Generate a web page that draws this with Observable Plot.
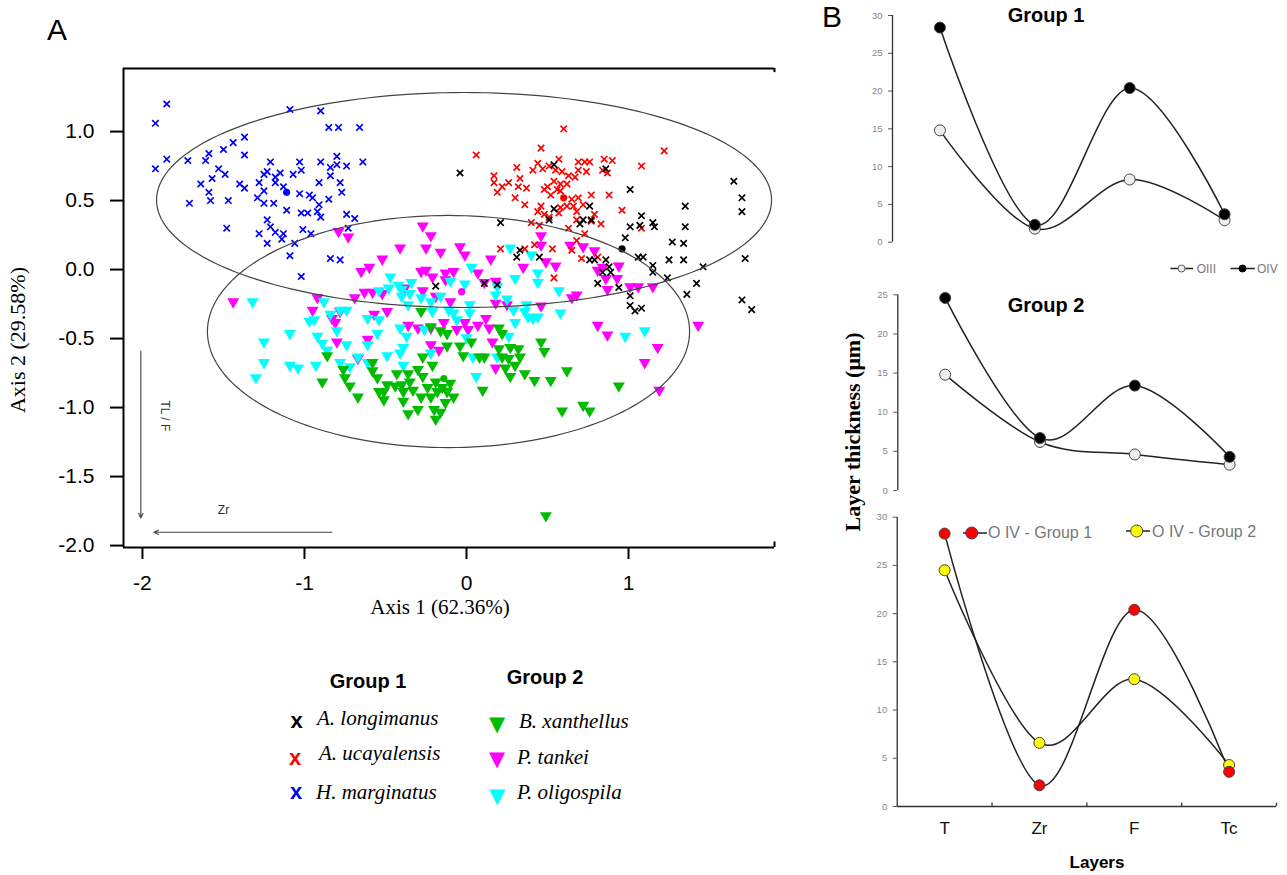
<!DOCTYPE html>
<html><head><meta charset="utf-8">
<script src="https://cdn.jsdelivr.net/npm/d3@7"></script>
<script src="https://cdn.jsdelivr.net/npm/@observablehq/plot@0.6"></script>
<style>
body{margin:0;background:#fff;}
#wrap{position:relative;width:1287px;height:875px;overflow:hidden;font-family:"Liberation Sans",Arial,sans-serif;color:#000;}
.abs{position:absolute;white-space:nowrap;line-height:1;}
.plot{position:absolute;}
</style></head><body><div id="wrap"></div>
<script>
// ---------------- Panel A data (Axis 1, Axis 2) ----------------
const aLongimanus = [[-0.04,0.70],[0.54,0.76],[0.86,0.73],[1.01,0.58],[1.65,0.64],[1.70,0.52],[1.70,0.42],[1.35,0.46],[1.08,0.39],[1.01,0.31],[1.07,0.32],[1.15,0.34],[1.16,0.31],[1.35,0.31],[0.98,0.23],[1.27,0.20],[1.34,0.19],[0.54,0.44],[0.76,0.46],[0.51,0.36],[0.72,0.36],[0.77,0.36],[0.70,0.33],[0.21,0.34],[0.33,0.14],[0.31,0.09],[0.45,0.09],[0.76,0.07],[0.79,0.07],[0.86,0.07],[0.88,0.02],[1.06,0.09],[1.09,0.09],[1.25,0.07],[1.34,0.07],[1.15,0.03],[1.15,-0.02],[1.46,0.02],[1.72,0.08],[0.84,-0.02],[0.89,-0.02],[0.81,-0.10],[0.94,-0.13],[1.01,-0.19],[1.24,-0.06],[1.42,-0.10],[1.36,-0.18],[1.70,-0.22],[1.76,-0.29],[1.01,-0.26],[1.04,-0.30],[1.08,-0.28],[-0.19,-0.12],[0.11,-0.10],[0.19,-0.11]];
const aUcayalensis = [[0.60,1.02],[0.46,0.88],[0.06,0.83],[1.22,0.86],[1.08,0.75],[0.31,0.74],[0.17,0.68],[0.17,0.63],[0.22,0.60],[0.26,0.63],[0.19,0.56],[0.33,0.66],[0.32,0.60],[0.37,0.59],[0.41,0.72],[0.44,0.77],[0.47,0.73],[0.51,0.75],[0.57,0.80],[0.55,0.72],[0.59,0.71],[0.63,0.68],[0.67,0.67],[0.69,0.78],[0.69,0.72],[0.73,0.78],[0.76,0.78],[0.74,0.71],[0.85,0.80],[0.90,0.79],[0.84,0.72],[0.87,0.70],[0.54,0.64],[0.58,0.62],[0.62,0.62],[0.56,0.58],[0.50,0.60],[0.48,0.58],[0.52,0.54],[0.58,0.57],[0.30,0.52],[0.36,0.47],[0.65,0.51],[0.69,0.52],[0.77,0.54],[0.88,0.54],[0.72,0.47],[0.46,0.46],[0.58,0.45],[0.62,0.46],[0.66,0.46],[0.44,0.42],[0.48,0.40],[0.51,0.38],[0.57,0.41],[0.68,0.42],[0.79,0.40],[0.96,0.43],[0.40,0.34],[0.45,0.32],[0.68,0.36],[0.77,0.35],[0.83,0.33],[0.63,0.30],[0.73,0.26],[1.08,0.30],[0.68,0.21],[0.42,0.18],[0.53,0.15],[0.65,0.14],[0.21,0.15],[0.36,0.15],[0.71,0.08],[0.81,0.09],[0.54,-0.06]];
const hMarginatus = [[-1.85,1.20],[-1.92,1.06],[-1.09,1.16],[-0.90,1.15],[-0.85,1.03],[-0.79,1.03],[-0.66,1.03],[-1.37,0.96],[-1.44,0.92],[-1.50,0.87],[-1.59,0.84],[-1.61,0.79],[-1.72,0.79],[-1.85,0.80],[-1.92,0.73],[-1.37,0.83],[-1.53,0.73],[-1.49,0.69],[-1.57,0.66],[-1.64,0.62],[-1.59,0.56],[-1.71,0.48],[-1.58,0.50],[-1.47,0.50],[-1.40,0.62],[-1.37,0.59],[-1.48,0.30],[-1.21,0.78],[-1.03,0.78],[-0.90,0.78],[-0.80,0.82],[-0.84,0.74],[-0.80,0.76],[-0.74,0.75],[-0.64,0.78],[-1.23,0.71],[-1.25,0.69],[-1.18,0.67],[-1.15,0.70],[-1.07,0.69],[-1.02,0.72],[-1.28,0.63],[-1.18,0.63],[-1.13,0.60],[-1.25,0.57],[-1.29,0.52],[-1.25,0.48],[-1.19,0.48],[-1.11,0.43],[-1.03,0.55],[-1.02,0.41],[-0.98,0.41],[-0.97,0.54],[-0.95,0.52],[-0.91,0.63],[-0.84,0.68],[-0.78,0.63],[-0.77,0.56],[-0.91,0.47],[-0.92,0.42],[-0.90,0.38],[-0.85,0.51],[-0.74,0.40],[-0.69,0.37],[-0.73,0.30],[-1.23,0.36],[-1.21,0.31],[-1.18,0.27],[-1.13,0.26],[-1.14,0.22],[-1.28,0.26],[-1.23,0.19],[-1.01,0.29],[-0.96,0.26],[-1.06,0.19],[-1.09,0.10],[-0.84,0.08],[-0.78,0.07],[-1.02,-0.05]];
const bXanthellus = [[-0.28,-0.31],[-0.22,-0.42],[-0.16,-0.45],[-0.12,-0.47],[-0.12,-0.56],[-0.04,-0.56],[-0.27,-0.64],[-0.21,-0.70],[-0.86,-0.63],[-0.76,-0.73],[-0.75,-0.79],[-0.58,-0.68],[-0.58,-0.74],[-0.55,-0.79],[-0.49,-0.84],[-0.44,-0.85],[-0.40,-0.84],[-0.43,-0.76],[-0.36,-0.76],[-0.30,-0.73],[-0.27,-0.78],[-0.35,-0.82],[-0.39,-0.89],[-0.33,-0.88],[-0.28,-0.93],[-0.22,-0.93],[-0.18,-0.89],[-0.15,-0.86],[-0.19,-0.82],[-0.10,-0.83],[-0.08,-0.93],[-0.13,-0.97],[-0.20,-1.02],[-0.16,-1.04],[-0.30,-1.02],[-0.36,-1.05],[-0.19,-1.09],[-0.51,-0.89],[-0.51,-0.95],[-0.67,-0.93],[-0.89,-0.82],[-0.39,-0.96],[-0.72,-0.85],[-0.54,-0.89],[-0.24,-0.86],[-0.12,-0.89],[0.03,-0.53],[0.08,-0.64],[0.11,-0.64],[-0.02,-0.63],[0.20,-0.43],[0.22,-0.47],[0.20,-0.58],[0.27,-0.57],[0.32,-0.58],[0.22,-0.64],[0.26,-0.65],[0.33,-0.64],[0.30,-0.70],[0.24,-0.72],[0.27,-0.78],[0.36,-0.76],[0.46,-0.53],[0.48,-0.60],[0.42,-0.81],[0.52,-0.81],[0.62,-0.74],[0.94,-0.85],[0.59,-1.03],[0.72,-0.99],[0.76,-1.03],[0.10,-0.88],[0.49,-1.79]];
const pTankei = [[-0.79,0.27],[-0.73,0.23],[-0.27,0.31],[-0.22,0.24],[-0.41,0.15],[-0.25,0.15],[-0.16,0.12],[-0.04,0.16],[-0.01,0.10],[0.15,0.07],[0.46,0.24],[0.46,0.17],[0.64,0.17],[0.72,0.16],[0.79,0.13],[0.35,0.01],[0.49,0.05],[0.55,0.02],[0.07,-0.03],[0.11,-0.10],[0.18,-0.09],[0.18,-0.25],[0.25,-0.26],[0.46,-0.27],[0.65,-0.21],[0.68,-0.19],[0.81,-0.01],[0.84,0.01],[0.86,-0.07],[0.87,-0.15],[0.93,-0.07],[0.94,0.02],[1.01,-0.13],[1.06,-0.13],[1.15,-0.13],[0.81,-0.41],[0.87,-0.48],[1.43,-0.41],[1.18,-0.57],[1.10,-0.68],[1.19,-0.88],[0.12,-0.36],[0.14,-0.43],[0.07,-0.41],[0.01,-0.44],[0.16,-0.53],[0.18,-0.72],[-0.52,0.07],[-0.65,-0.02],[-0.60,0.01],[-0.28,-0.02],[-0.25,-0.01],[-0.21,-0.06],[-0.13,-0.03],[-0.08,-0.02],[-0.13,-0.08],[-0.92,-0.21],[-0.63,-0.17],[-0.58,-0.17],[-0.52,-0.18],[-0.69,-0.21],[-0.27,-0.16],[-0.19,-0.20],[-0.10,-0.24],[-1.44,-0.24],[-0.95,-0.30],[-0.83,-0.36],[-0.78,-0.31],[-0.81,-0.39],[-0.57,-0.33],[-0.49,-0.31],[-0.36,-0.41],[-0.30,-0.43],[-0.22,-0.43],[-0.14,-0.39],[-0.06,-0.44],[-0.80,-0.53],[-0.61,-0.51],[-0.22,-0.55],[-0.17,-0.59],[-0.67,-0.65],[-0.38,-0.14],[-0.01,-0.39]];
const pOligospila = [[-0.47,-0.06],[-0.42,-0.12],[-0.34,-0.10],[-0.40,-0.15],[-0.35,-0.18],[-0.28,-0.21],[-0.22,-0.24],[-0.16,-0.20],[-0.21,-0.31],[-0.11,-0.30],[-0.08,-0.32],[-0.06,-0.37],[-0.78,-0.30],[-0.74,-0.30],[-0.84,-0.33],[-0.97,-0.38],[-0.94,-0.37],[-0.88,-0.24],[-1.32,-0.24],[-1.09,-0.47],[-1.25,-0.53],[-0.92,-0.49],[-0.89,-0.54],[-0.86,-0.59],[-0.80,-0.45],[-0.74,-0.55],[-0.61,-0.55],[-0.55,-0.47],[-0.41,-0.43],[-0.37,-0.49],[-0.26,-0.44],[-0.39,-0.57],[-0.41,-0.61],[-0.22,-0.61],[-1.25,-0.68],[-1.09,-0.70],[-1.04,-0.72],[-0.93,-0.70],[-0.78,-0.68],[-0.72,-0.71],[-0.67,-0.64],[-0.61,-0.68],[-0.49,-0.63],[-0.39,-0.70],[-1.30,-0.79],[-0.54,-0.16],[0.27,0.15],[0.40,0.10],[0.03,0.01],[0.30,-0.07],[0.44,-0.03],[0.44,-0.10],[0.57,-0.16],[0.19,-0.13],[0.18,-0.19],[0.25,-0.22],[0.29,-0.30],[0.37,-0.26],[0.36,-0.31],[0.41,-0.36],[0.44,-0.35],[0.38,-0.35],[0.58,-0.32],[0.30,-0.39],[0.02,-0.26],[0.02,-0.32],[0.26,-0.49],[0.00,-0.50],[0.04,-0.64],[0.19,-0.64],[0.06,-0.78],[0.98,-0.49],[1.10,-0.45],[-0.61,-0.36],[-0.54,-0.37],[-0.48,-0.14],[-0.40,-0.20],[-0.36,-0.26],[-0.01,-0.11],[-0.10,-0.09]];
const centroids = [
  {sp:"H. marginatus", x:-1.11, y:0.56, c:"#0000ff"},
  {sp:"A. ucayalensis", x:0.60, y:0.52, c:"#ff0000"},
  {sp:"A. longimanus", x:0.96, y:0.15, c:"#000000"},
  {sp:"B. xanthellus", x:-0.14, y:-0.79, c:"#00bb00"},
  {sp:"P. tankei", x:-0.03, y:-0.16, c:"#ff00ff"}
];
const ellipses = [
  {group:"Group 1", cx:-0.015, cy:0.504, rx:1.898, ry:0.779},
  {group:"Group 2", cx:-0.111, cy:-0.449, rx:1.488, ry:0.841}
];
const loadingArrows = [
  {label:"TL / F", x1:-2.01, y1:-0.59, x2:-2.01, y2:-1.80, lx:-1.86, ly:-1.06, rot:90},
  {label:"Zr", x1:-0.83, y1:-1.904, x2:-1.93, y2:-1.904, lx:-1.50, ly:-1.746, rot:0}
];
const xTicksA = [-2, -1, 0, 1];
const yTicksA = [-2.0, -1.5, -1.0, -0.5, 0.0, 0.5, 1.0];

// ---------------- Panel B data (layer thickness, µm) ----------------
const layers = ["T", "Zr", "F", "Tc"];
const g1OIII = [14.8, 1.8, 8.3, 2.9];
const g1OIV  = [28.4, 2.3, 20.4, 3.7];
const g2OIII = [14.8, 6.2, 4.6, 3.3];
const g2OIV  = [24.6, 6.7, 13.4, 4.3];
const oivGroup1 = [28.3, 2.2, 20.4, 3.6];
const oivGroup2 = [24.5, 6.6, 13.2, 4.3];

// ---------------- helpers ----------------
const wrap = document.getElementById("wrap");
function place(el, left, top) { el.classList.add("plot"); el.style.left = left + "px"; el.style.top = top + "px"; wrap.appendChild(el); }
function label(text, x, y, css = "", anchor = "center") {
  const d = document.createElement("div");
  d.className = "abs";
  d.textContent = text;
  d.style.cssText += `left:${x}px;top:${y}px;` + css;
  const tx = anchor === "center" ? "-50%" : anchor === "end" ? "-100%" : "0";
  d.style.transform = `translate(${tx},-50%)`;
  wrap.appendChild(d);
  return d;
}
function rotLabel(text, x, y, deg, css = "") {
  const d = document.createElement("div");
  d.className = "abs";
  d.textContent = text;
  d.style.cssText += `left:${x}px;top:${y}px;` + css;
  d.style.transform = `translate(-50%,-50%) rotate(${deg}deg)`;
  wrap.appendChild(d);
  return d;
}
const triDown = {draw(ctx, size) { const r = Math.sqrt(size / Math.PI); ctx.moveTo(-r, -r * 0.72); ctx.lineTo(r, -r * 0.72); ctx.lineTo(0, r); ctx.closePath(); }};
const X = d => d[0], Y = d => d[1];

// ---------------- Panel A plot ----------------
const xMinA = -2.117, xMaxA = 1.901, yMinA = -2.014, yMaxA = 1.457;
const ellipsePts = ellipses.flatMap(e => d3.range(0, 361, 2).map(a => ({g: e.group, x: e.cx + e.rx * Math.cos(a * Math.PI / 180), y: e.cy + e.ry * Math.sin(a * Math.PI / 180)})));

const plotA = Plot.plot({
  width: 800, height: 640,
  marginLeft: 123, marginRight: 26, marginTop: 68, marginBottom: 93,
  x: {domain: [xMinA, xMaxA]},
  y: {domain: [yMinA, yMaxA]},
  style: {fontFamily: "Liberation Sans, Arial, sans-serif", background: "transparent", overflow: "visible", color: "#000"},
  marks: [
    Plot.axisX({ticks: xTicksA, tickSize: 12, tickPadding: 16, fontSize: 21, strokeWidth: 2, tickFormat: d => String(d), label: null}),
    Plot.axisY({ticks: yTicksA, tickSize: 13, tickPadding: 16, fontSize: 21, strokeWidth: 2, tickFormat: d => d.toFixed(1), label: null}),
    Plot.ruleX([xMinA], {strokeWidth: 2}),
    Plot.ruleY([yMinA], {strokeWidth: 2}),
    Plot.ruleY([yMaxA], {strokeWidth: 2}),
    Plot.ruleX([xMaxA], {y1: yMaxA, y2: yMaxA - 0.03, strokeWidth: 2}),
    Plot.ruleX([xMaxA], {y1: yMinA, y2: yMinA + 0.04, strokeWidth: 2}),
    Plot.dot(pTankei, {x: X, y: Y, symbol: triDown, r: 6, fill: "#ff00ff", stroke: null}),
    Plot.dot(pOligospila, {x: X, y: Y, symbol: triDown, r: 6, fill: "#00ffff", stroke: null}),
    Plot.dot(bXanthellus, {x: X, y: Y, symbol: triDown, r: 6, fill: "#00bb00", stroke: null}),
    Plot.dot(hMarginatus, {x: X, y: Y, symbol: "times", r: 3, stroke: "#0000ff", strokeWidth: 1.7}),
    Plot.dot(aUcayalensis, {x: X, y: Y, symbol: "times", r: 3, stroke: "#ff0000", strokeWidth: 1.7}),
    Plot.dot(aLongimanus, {x: X, y: Y, symbol: "times", r: 3, stroke: "#000000", strokeWidth: 1.7}),
    Plot.dot(centroids, {x: "x", y: "y", r: 3.6, fill: d => d.c, stroke: null}),
    Plot.line(ellipsePts, {x: "x", y: "y", z: "g", stroke: "#444", strokeWidth: 1.2, curve: "linear"}),
    Plot.arrow(loadingArrows, {x1: "x1", y1: "y1", x2: "x2", y2: "y2", stroke: "#444", strokeWidth: 1.1, headLength: 7, headAngle: 50}),
    Plot.text(loadingArrows, {x: "lx", y: "ly", text: "label", rotate: "rot", fontSize: 12, fill: "#333"})
  ]
});
place(plotA, 0, 0);

// ---------------- Panel B plots ----------------
const rows = (arr, s) => arr.map((v, i) => ({i, layer: layers[i], v, s}));
const yAxisB = (max) => Plot.axisY({ticks: d3.range(0, max + 1, 5), tickSize: 4, tickPadding: 6, fontSize: 9.5, stroke: "#555", fill: "#888", label: null});
const styleB = {fontFamily: "Liberation Sans, Arial, sans-serif", background: "transparent", overflow: "visible", color: "#000"};
const curveOpts = {x: "i", y: "v", curve: "cardinal", tension: 0, stroke: "#222", strokeWidth: 1.5};

function seriesPlot(a, b, fa, fb, opts, extra = []) {
  const A = rows(a, "a"), B = rows(b, "b");
  return Plot.plot({
    ...opts,
    x: {domain: [-0.5, 3.5], axis: null},
    style: styleB,
    marks: [
      ...extra,
      Plot.line(A, curveOpts),
      Plot.line(B, curveOpts),
      Plot.dot(A, {x: "i", y: "v", r: 5.5, fill: fa, stroke: "#444", strokeWidth: 1}),
      Plot.dot(B, {x: "i", y: "v", r: 5.5, fill: fb, stroke: "#444", strokeWidth: 1})
    ]
  });
}

const p1 = seriesPlot(g1OIII, g1OIV, "#eeeeee", "#000000",
  {width: 447, height: 260, marginLeft: 52, marginRight: 15.5, marginTop: 15, marginBottom: 18.3, y: {domain: [0, 30]}},
  [yAxisB(30), Plot.ruleX([-0.5], {y1: 0, y2: 30, stroke: "#333", strokeWidth: 1.3})]);
place(p1, 840, 0);

const p2 = seriesPlot(g2OIII, g2OIV, "#eeeeee", "#000000",
  {width: 447, height: 215, marginLeft: 57.3, marginRight: 10.5, marginTop: 14.3, marginBottom: 5, y: {domain: [0, 25]}},
  [yAxisB(25), Plot.ruleX([-0.5], {y1: 0, y2: 25, stroke: "#333", strokeWidth: 1.3})]);
place(p2, 840, 280);

const A3 = rows(oivGroup1, "g1"), B3 = rows(oivGroup2, "g2");
const p3 = Plot.plot({
  width: 447, height: 340, marginLeft: 56.7, marginRight: 11, marginTop: 16.7, marginBottom: 34,
  x: {domain: [-0.5, 3.5]},
  y: {domain: [0, 30]},
  style: styleB,
  marks: [
    yAxisB(30),
    Plot.axisX({ticks: [0, 1, 2, 3], tickFormat: i => layers[i], tickSize: 0, tickPadding: 15, fontSize: 17, fill: "#111", label: null}),
    Plot.ruleX([-0.5], {y1: 0, y2: 30, stroke: "#333", strokeWidth: 1.3}),
    Plot.ruleY([0], {stroke: "#333", strokeWidth: 1.3}),
    Plot.ruleX([0.5, 1.5, 2.5, 3.5], {y1: 0, y2: 0.35, stroke: "#333", strokeWidth: 1.3}),
    Plot.line(A3, curveOpts),
    Plot.line(B3, curveOpts),
    Plot.dot(B3, {x: "i", y: "v", r: 5.5, fill: "#ffff00", stroke: "#444", strokeWidth: 1}),
    Plot.dot(A3, {x: "i", y: "v", r: 5.5, fill: "#ff0000", stroke: "#444", strokeWidth: 1})
  ]
});
place(p3, 840, 500);

// ---------------- Text: panel labels, titles ----------------
label("A", 57, 30, "font-size:30px;");
label("B", 832, 17, "font-size:30px;");
label("Axis 1 (62.36%)", 440, 607, "font-family:'Liberation Serif',serif;font-size:21px;");
rotLabel("Axis 2 (29.58%)", 18, 340, -90, "font-family:'Liberation Serif',serif;font-size:22px;");
label("Group 1", 1046, 15, "font-size:20px;font-weight:bold;");
label("Group 2", 1046, 305, "font-size:20px;font-weight:bold;");
rotLabel("Layer thickness (μm)", 853, 432, -90, "font-family:'Liberation Serif',serif;font-size:22px;font-weight:bold;");
label("Layers", 1097, 862, "font-size:17px;font-weight:bold;");

// ---------------- Panel A legend ----------------
label("Group 1", 368, 681, "font-size:20px;font-weight:bold;");
label("Group 2", 545, 677, "font-size:20px;font-weight:bold;");
const legA = [
  {sym:"x", c:"#000000", name:"A. longimanus", mx:296.5, my:721, tx:317, ty:718},
  {sym:"x", c:"#ff0000", name:"A. ucayalensis", mx:295, my:758, tx:319, ty:753},
  {sym:"x", c:"#0000ff", name:"H. marginatus", mx:296, my:792, tx:316, ty:792},
  {sym:"▼", c:"#00bb00", name:"B. xanthellus", mx:497, my:724, tx:519, ty:721},
  {sym:"▼", c:"#ff00ff", name:"P. tankei", mx:497, my:759, tx:517, ty:757},
  {sym:"▼", c:"#00ffff", name:"P. oligospila", mx:497, my:796, tx:517, ty:792}
];
for (const d of legA) {
  label(d.sym, d.mx, d.my, `color:${d.c};font-weight:bold;` + (d.sym === "x" ? "font-size:22px;" : "font-size:21px;font-family:'DejaVu Sans',sans-serif;"));
  label(d.name, d.tx, d.ty, "font-family:'Liberation Serif',serif;font-style:italic;font-size:21px;", "start");
}

// ---------------- Panel B legends ----------------
function swatch(x, y, x1, x2, r, fill, stroke) {
  const ns = "http://www.w3.org/2000/svg";
  const s = document.createElementNS(ns, "svg");
  const w = x2 - x1 + 2 * r + 4, h = 2 * r + 4;
  s.setAttribute("width", w); s.setAttribute("height", h);
  s.style.cssText = `position:absolute;left:${x1 - r - 2}px;top:${y - r - 2}px;overflow:visible;`;
  const l = document.createElementNS(ns, "line");
  l.setAttribute("x1", r + 2); l.setAttribute("x2", x2 - x1 + r + 2); l.setAttribute("y1", r + 2); l.setAttribute("y2", r + 2);
  l.setAttribute("stroke", "#222"); l.setAttribute("stroke-width", "1.5");
  const c = document.createElementNS(ns, "circle");
  c.setAttribute("cx", x - x1 + r + 2); c.setAttribute("cy", r + 2); c.setAttribute("r", r);
  c.setAttribute("fill", fill); c.setAttribute("stroke", stroke);
  s.appendChild(l); s.appendChild(c);
  wrap.appendChild(s);
}
swatch(1181.7, 268.3, 1170.7, 1193.3, 3.5, "#eeeeee", "#555");
label("OIII", 1196.7, 268.5, "font-size:12px;color:#777;", "start");
swatch(1242.7, 268.3, 1230.7, 1255, 3.5, "#000", "#000");
label("OIV", 1257, 268.5, "font-size:12px;color:#777;", "start");
swatch(971.7, 532.5, 963, 987, 6, "#ff0000", "#444");
label("O IV - Group 1", 988, 532.5, "font-size:16px;color:#777;", "start");
swatch(1136.7, 530.5, 1126, 1150, 6, "#ffff00", "#444");
label("O IV - Group 2", 1152, 531.5, "font-size:16px;color:#777;", "start");
</script>
</body></html>
